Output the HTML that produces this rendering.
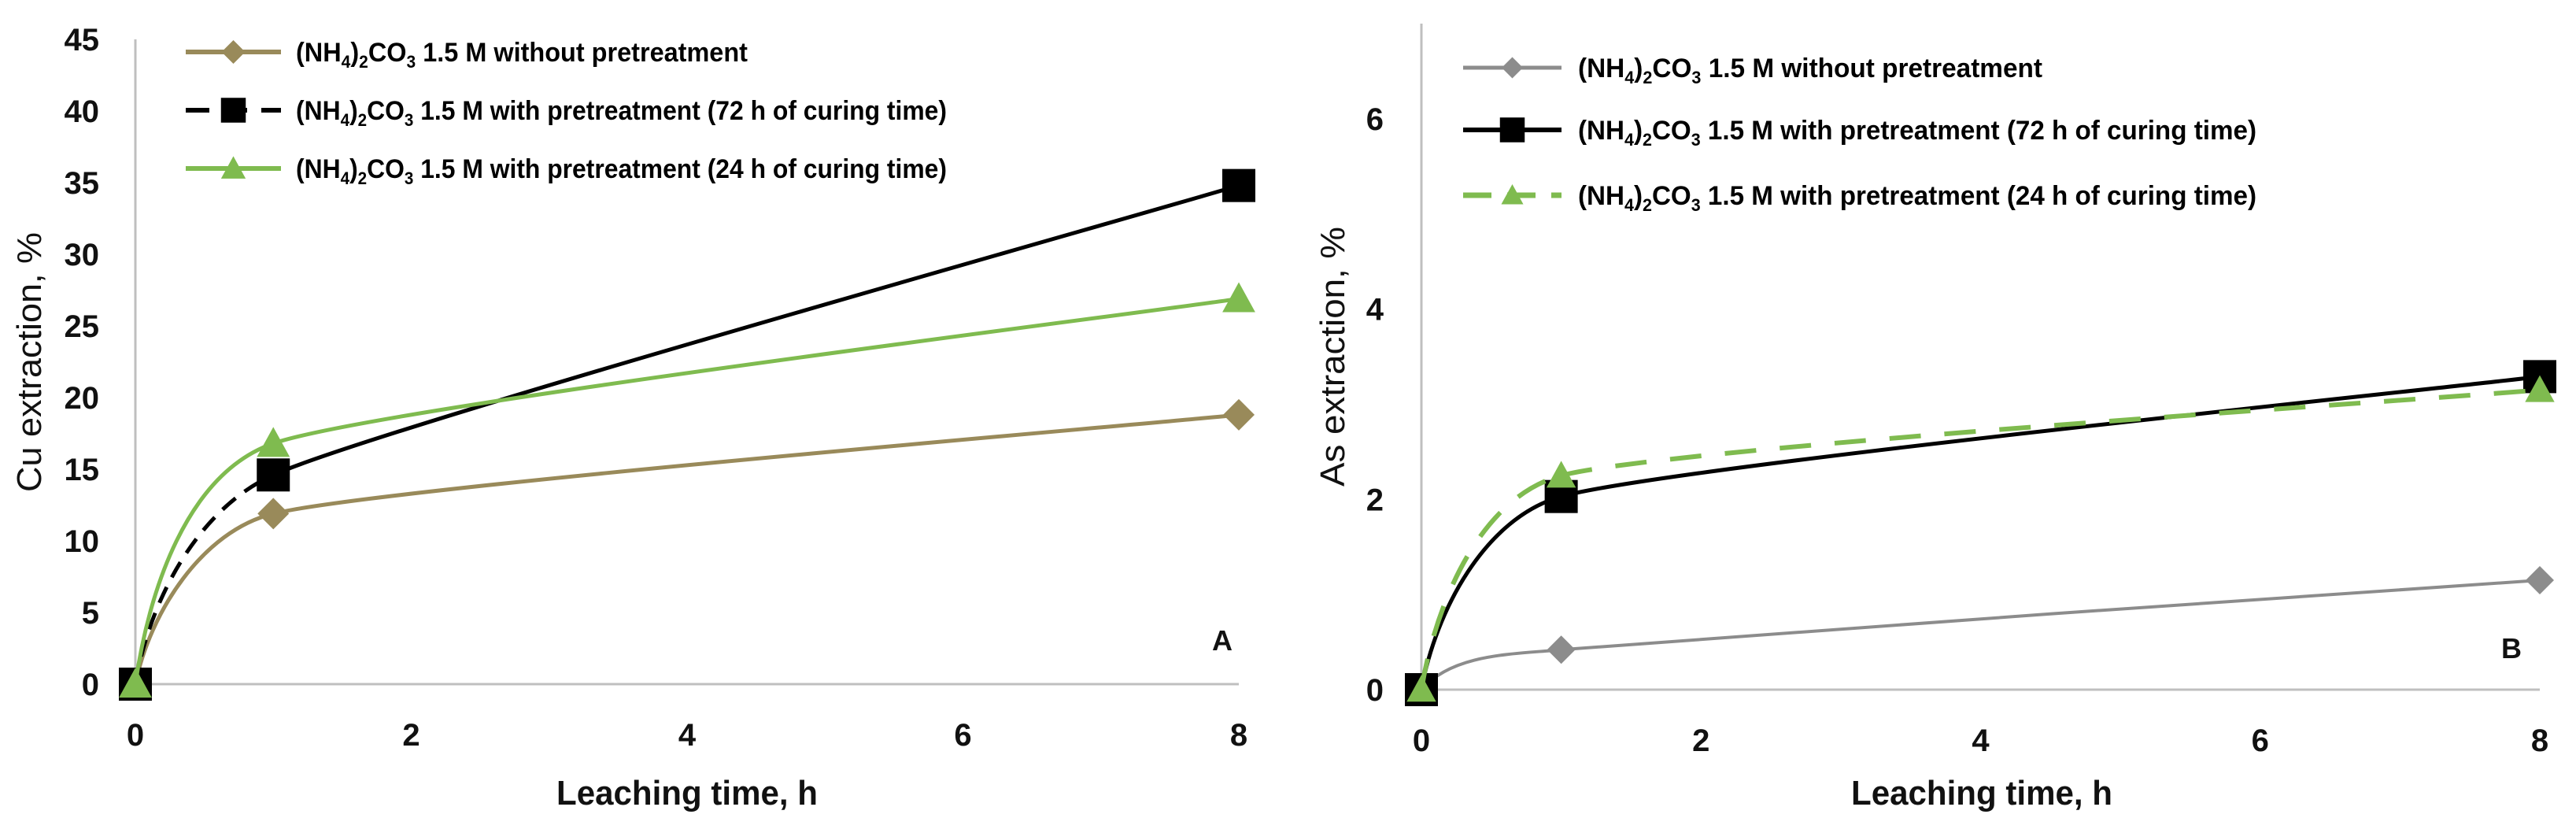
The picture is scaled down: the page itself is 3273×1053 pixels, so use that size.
<!DOCTYPE html>
<html><head><meta charset="utf-8"><style>
html,body{margin:0;padding:0;background:#fff;}
svg{display:block;font-family:"Liberation Sans",Arial,sans-serif;}
</style></head><body>
<svg id="chart" width="3273" height="1053" viewBox="0 0 3273 1053"></svg>
<script>
// Shared x categories (leaching time, h)
const times = [0, 1, 8];
const xTicks = [0, 2, 4, 6, 8];
// Panel A: Cu extraction, %
const cuNoPre = [0, 11.9, 18.8];
const cuPre72 = [0, 14.6, 34.8];
const cuPre24 = [0, 16.8, 26.9];
const cuTicks = [0, 5, 10, 15, 20, 25, 30, 35, 40, 45];
// Panel B: As extraction, %
const asNoPre = [0, 0.42, 1.15];
const asPre72 = [0, 2.03, 3.29];
const asPre24 = [0, 2.25, 3.15];
const asTicks = [0, 2, 4, 6];

const NS = "http://www.w3.org/2000/svg";
const svg = document.getElementById('chart');
function mk(tag, attrs, parent){
  const e = document.createElementNS(NS, tag);
  for (const k in attrs) e.setAttribute(k, attrs[k]);
  (parent||svg).appendChild(e);
  return e;
}
function tangent(pts, i){
  const a = pts[Math.max(i-1,0)], b = pts[Math.min(i+1,pts.length-1)];
  const dx=b[0]-a[0], dy=b[1]-a[1], L=Math.hypot(dx,dy)||1;
  return [dx/L, dy/L];
}
function smoothPath(pts){
  const segs=[];
  for (let i=0;i<pts.length-1;i++){
    const p1=pts[i], p2=pts[i+1];
    const len=Math.hypot(p2[0]-p1[0],p2[1]-p1[1]);
    let t1 = tangent(pts,i), t2 = tangent(pts,i+1);
    let h1 = len/3, h2 = len/3;
    if (i===0){ const dx=p2[0]-p1[0], dy=p2[1]-p1[1]; t1=[dx/len*0.35, dy/len*1.4]; const L=Math.hypot(t1[0],t1[1]); t1=[t1[0]/L,t1[1]/L]; }
    else { h1 = len/9; h2 = len/9; }
    const c1=[p1[0]+t1[0]*h1, p1[1]+t1[1]*h1];
    const c2=[p2[0]-t2[0]*h2, p2[1]-t2[1]*h2];
    segs.push(`M${p1[0]},${p1[1]} C${c1[0]},${c1[1]} ${c2[0]},${c2[1]} ${p2[0]},${p2[1]}`);
  }
  return segs;
}
function marker(g, type, x, y, color, s){
  let e;
  if (type==='diamond') e = mk('polygon',{points:`${x},${y-s} ${x+s},${y} ${x},${y+s} ${x-s},${y}`, fill:color}, g);
  else if (type==='square') e = mk('rect',{x:x-s,y:y-s,width:2*s,height:2*s,fill:color}, g);
  else e = mk('polygon',{points:`${x},${y-s*1.1} ${x+s*1.1},${y+s*0.9} ${x-s*1.1},${y+s*0.9}`, fill:color}, g);
  return e;
}
function legendText(g, x, y, rest, len){
  const t = mk('text',{x:x,y:y,'font-size':34,'font-weight':'bold',fill:'#000',textLength:len,lengthAdjust:'spacingAndGlyphs'}, g);
  t.innerHTML = `(NH<tspan font-size="22" dy="8">4</tspan><tspan dy="-8">)</tspan><tspan font-size="22" dy="8">2</tspan><tspan dy="-8">CO</tspan><tspan font-size="22" dy="8">3</tspan><tspan dy="-8"> 1.5 M ${rest}</tspan>`;
  return t;
}

function panel(cfg){
  const g = mk('g',{});
  
  
  const X = v => cfg.x0 + (v-0)/(8-0)*(cfg.x1-cfg.x0);
  const Y = v => cfg.y0 - v/cfg.ymax*(cfg.y0-cfg.ytop);
  const ya = mk('line',{x1:cfg.x0,y1:cfg.ytop,x2:cfg.x0,y2:cfg.y0,stroke:'#bfbfbf','stroke-width':3},g);
   
  const xa = mk('line',{x1:cfg.x0,y1:cfg.y0,x2:cfg.x1,y2:cfg.y0,stroke:'#bfbfbf','stroke-width':3},g);
   
  cfg.yticks.forEach(v=>{
    const t = mk('text',{x:cfg.ylabX,y:Y(v)+14,'text-anchor':'end','font-size':40,'font-weight':'bold',fill:'#111'},g);
    t.textContent = v;
     
  });
  xTicks.forEach(v=>{
    const t = mk('text',{x:X(v),y:cfg.y0+78,'text-anchor':'middle','font-size':40,'font-weight':'bold',fill:'#111'},g);
    t.textContent = v;
     
  });
  const xt = mk('text',{x:cfg.xtX,y:1022,'font-size':44,'font-weight':'bold',fill:'#111',textLength:332,lengthAdjust:'spacingAndGlyphs'},g);
  xt.textContent = 'Leaching time, h';
   
  const yt = mk('text',{x:0,y:0,'font-size':44,fill:'#111','text-anchor':'middle',textLength:330,lengthAdjust:'spacingAndGlyphs',transform:`translate(${cfg.ytX},${cfg.ytY}) rotate(-90)`},g);
  yt.textContent = cfg.ytitle;
   
  const pl = mk('text',{x:cfg.plX,y:cfg.plY,'font-size':36,'font-weight':'bold',fill:'#111'},g);
  pl.textContent = cfg.plabel;
   

  cfg.series.forEach(s=>{
    const sg = mk('g',{},g);
    
    
    const pts = times.map((t,i)=>[X(t),Y(s.data[i])]);
    const segs = smoothPath(pts);
    segs.forEach((d,i)=>{
      const dash = s.dashSeg && s.dashSeg.includes(i) ? s.dash : null;
      const p = mk('path',{d:d,fill:'none',stroke:s.color,'stroke-width':s.w},sg);
      if (dash) p.setAttribute('stroke-dasharray', dash);
      
      
    });
    pts.forEach(p=>{
      const m = marker(sg, s.marker, p[0], p[1], s.color, s.ms);
      
      
    });
    const lg = mk('g',{},g);
    
    
    const ll = mk('line',{x1:cfg.legX0,y1:s.ly,x2:cfg.legX1,y2:s.ly,stroke:s.color,'stroke-width':s.w+1},lg);
    if (s.legDash) ll.setAttribute('stroke-dasharray', s.legDash);
    marker(lg, s.marker, (cfg.legX0+cfg.legX1)/2, s.ly, s.color, s.ms*0.75);
    legendText(lg, cfg.legTX, s.ly+12, s.label, s.tlen);
  });
}

panel({name:'panel-a-cu', x0:172, x1:1574, y0:869, ytop:50, ymax:45, yticks:cuTicks,
  ylabX:126, xtX:707, ytitle:'Cu extraction, %', ytX:52, ytY:460, plabel:'A', plX:1540, plY:826,
  legX0:236, legX1:357, legTX:376,
  series:[
    {name:'cu-without-pretreatment', data:cuNoPre, color:'#998a5a', w:5, marker:'diamond', ms:20, ly:66, label:'without pretreatment', tlen:574},
    {name:'cu-pretreatment-72h', data:cuPre72, color:'#000', w:5, marker:'square', ms:21, dashSeg:[0], dash:'22,14', legDash:'30,18', ly:140, label:'with pretreatment (72 h of curing time)', tlen:827},
    {name:'cu-pretreatment-24h', data:cuPre24, color:'#7fbb4f', w:5, marker:'triangle', ms:19, ly:214, label:'with pretreatment (24 h of curing time)', tlen:827}
  ]});
panel({name:'panel-b-as', x0:1806, x1:3227, y0:876, ytop:30, ymax:7, yticks:asTicks,
  ylabX:1758, xtX:2352, ytitle:'As extraction, %', ytX:1708, ytY:453, plabel:'B', plX:3178, plY:836,
  legX0:1859, legX1:1984, legTX:2005,
  series:[
    {name:'as-without-pretreatment', data:asNoPre, color:'#8c8c8c', w:4, marker:'diamond', ms:18, ly:86, label:'without pretreatment', tlen:590},
    {name:'as-pretreatment-72h', data:asPre72, color:'#000', w:5, marker:'square', ms:21, ly:165, label:'with pretreatment (72 h of curing time)', tlen:862},
    {name:'as-pretreatment-24h', data:asPre24, color:'#7fbb4f', w:6, marker:'triangle', ms:17, dashSeg:[0,1], dash:'40,30', legDash:'36,20', ly:248, label:'with pretreatment (24 h of curing time)', tlen:862}
  ]});
</script>
</body></html>
